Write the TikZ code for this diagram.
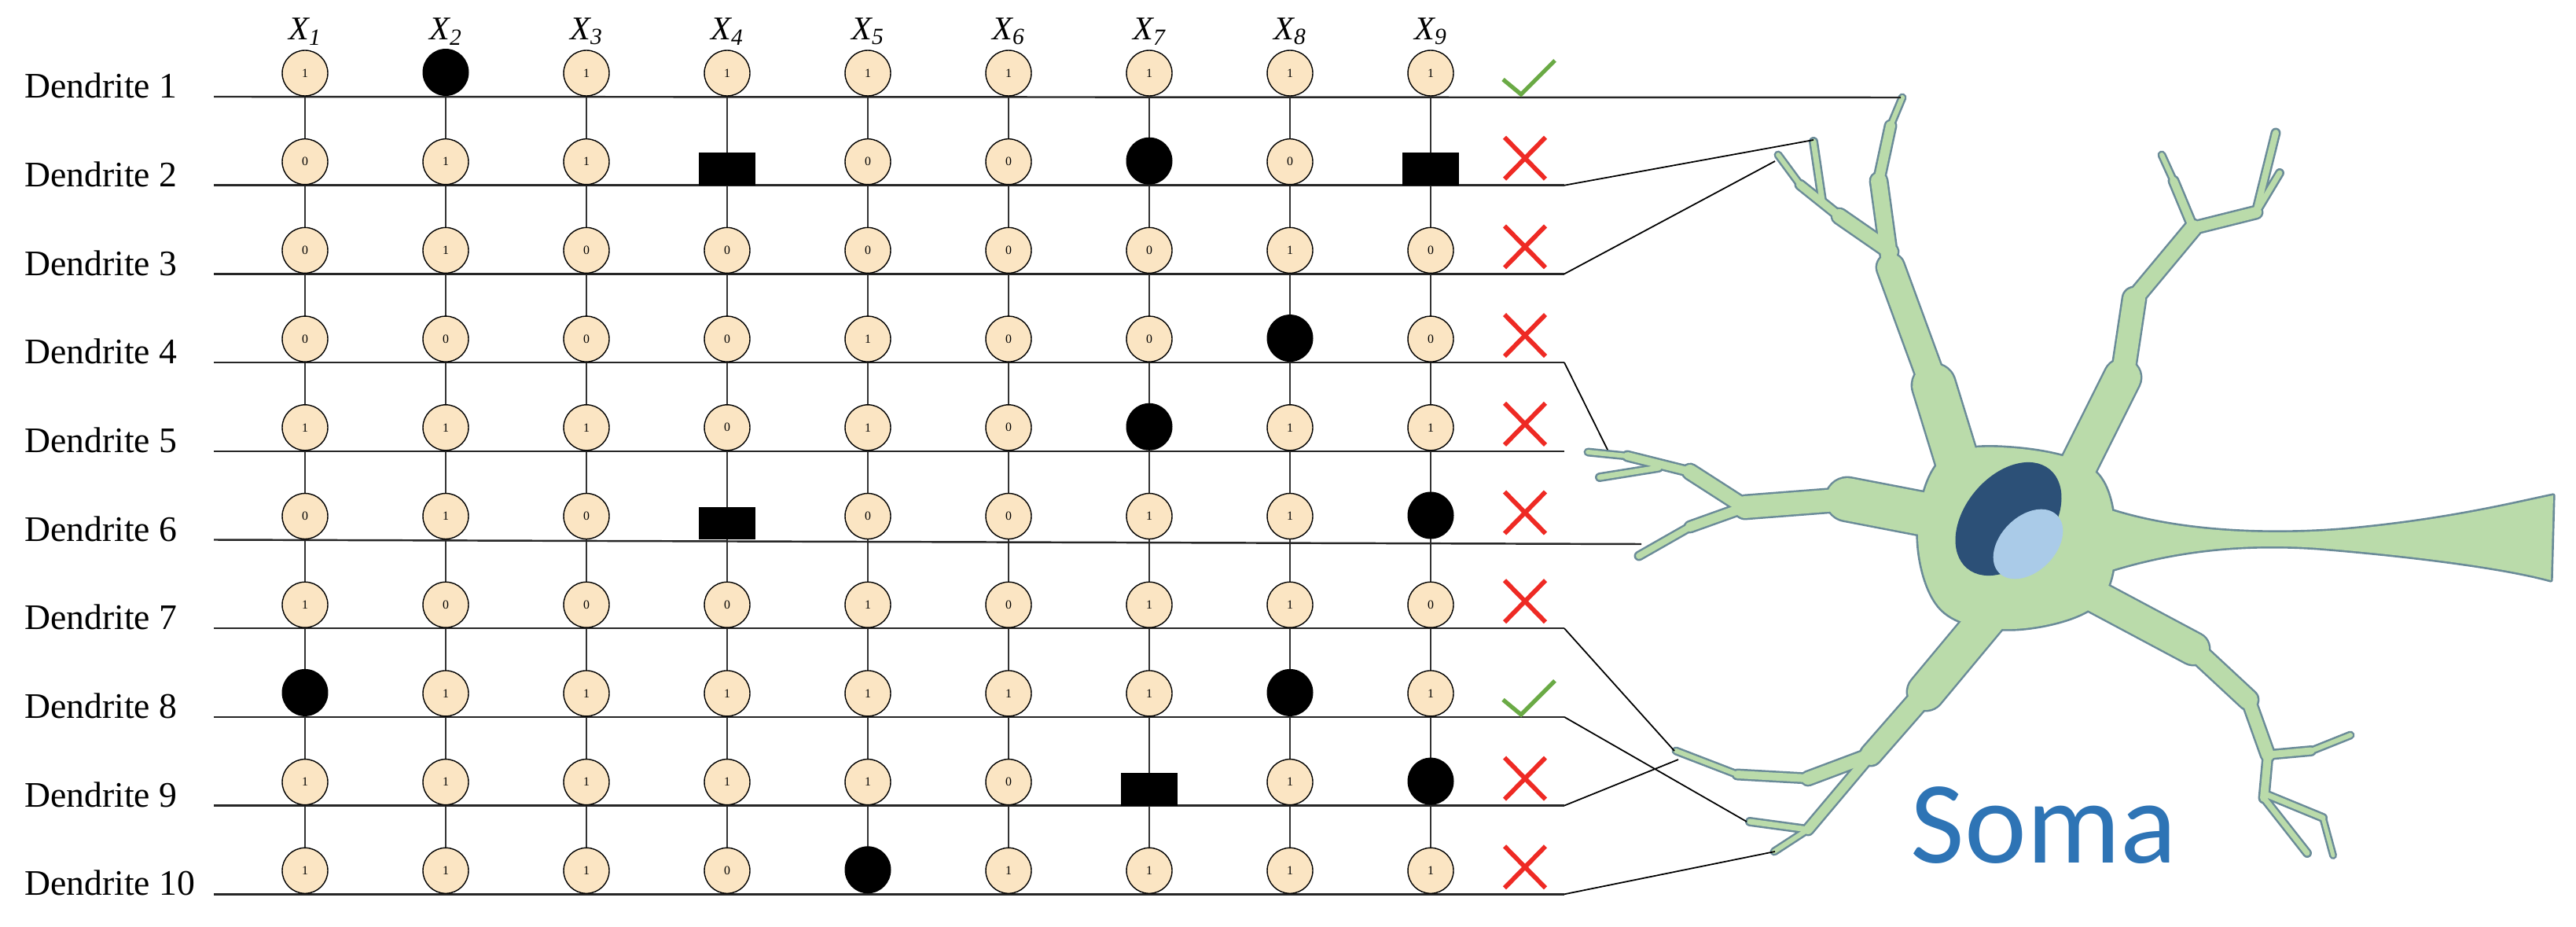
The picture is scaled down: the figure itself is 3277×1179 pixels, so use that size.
\documentclass[tikz,border=0pt]{standalone}
\usepackage{fontspec}
\setmainfont{Liberation Serif}
\newfontfamily\somaf{Carlito}
\usetikzlibrary{shapes.geometric}
\definecolor{cellc}{HTML}{FBE5C3}
\definecolor{neur}{HTML}{BADBAA}
\definecolor{neurb}{HTML}{6A8B98}
\definecolor{nucd}{HTML}{2C5077}
\definecolor{nucl}{HTML}{AACBE8}
\definecolor{okc}{HTML}{6AAA45}
\definecolor{noc}{HTML}{EE2A24}
\definecolor{somac}{HTML}{2E74B5}
\begin{document}
\begin{tikzpicture}[x=0.02cm,y=-0.02cm,
  cell/.style={circle,draw,fill=cellc,minimum size=1.16cm,inner sep=0pt,line width=0.8pt,font=\fontsize{9}{9}\selectfont},
  blk/.style={ellipse,fill=black,minimum width=1.18cm,minimum height=1.2cm,inner sep=0pt},
  sq/.style={rectangle,fill=black,minimum width=1.44cm,minimum height=0.84cm,inner sep=0pt},
  dl/.style={line width=1.4pt,black!85},
  vl/.style={line width=1.1pt,black!80},
  cn/.style={line width=1pt,black},
  lab/.style={anchor=west,font=\fontsize{26}{26}\selectfont,inner sep=0pt},
  xl/.style={font=\fontsize{24}{24}\selectfont\itshape,inner sep=0pt},
  ok/.style={okc,line width=3pt},
  no/.style={noc,line width=3.3pt},
  br/.style={line cap=round,line join=round}]
\useasboundingbox (0,0) rectangle (3277,1179);

% ---------- neuron ----------
\def\somapath{plot[smooth cycle,tension=0.6] coordinates {(2470,585) (2560,570) (2665,600) (2690,690) (2665,770) (2560,800) (2470,775) (2440,680)}}
\def\axonpath{(2660,640) .. controls (2760,680) and (2900,682) .. (3000,672) .. controls (3120,660) and (3200,640) .. (3248,630) -- (3245,738) .. controls (3180,720) and (3050,705) .. (2950,697) .. controls (2850,690) and (2760,700) .. (2670,730) -- cycle}
\def\neuronbranches#1#2{%
 \foreach \w/\a/\b in {
   54/{2500,620}/{2460,490}, 34/{2460,490}/{2405,340}, 20/{2405,340}/{2390,230}, 12/{2390,230}/{2405,160}, 6/{2405,160}/{2420,124},
   18/{2405,320}/{2340,275}, 10/{2340,275}/{2290,235}, 6/{2290,235}/{2262,197}, 7/{2318,255}/{2307,180},
   46/{2630,620}/{2700,480}, 28/{2700,480}/{2715,380}, 20/{2715,380}/{2790,290},
   10/{2790,290}/{2765,230}, 6/{2765,230}/{2750,197}, 14/{2790,290}/{2870,270}, 8/{2870,270}/{2895,169}, 7/{2870,270}/{2900,220},
   54/{2480,660}/{2350,635}, 28/{2350,635}/{2220,645}, 18/{2220,645}/{2150,600}, 10/{2150,600}/{2070,580}, 6/{2070,580}/{2020,575},
   7/{2110,595}/{2035,607}, 12/{2220,645}/{2150,670}, 8/{2150,670}/{2085,707},
   40/{2640,745}/{2790,825}, 24/{2790,825}/{2860,890}, 16/{2860,890}/{2885,960}, 10/{2885,960}/{2880,1015}, 7/{2880,1015}/{2935,1085},
   9/{2885,960}/{2940,955}, 6/{2940,955}/{2990,935}, 7/{2882,1010}/{2955,1040}, 5/{2955,1040}/{2968,1088},
   46/{2550,760}/{2450,880}, 26/{2450,880}/{2380,960}, 16/{2380,960}/{2300,990}, 10/{2300,990}/{2210,985},
   6/{2210,985}/{2132,955}, 12/{2380,960}/{2300,1055}, 7/{2300,1055}/{2226,1045}, 6/{2300,1055}/{2257,1083}}
   {\pgfmathsetmacro\ww{(\w+#1)*0.567}\draw[br,#2,line width=\ww pt] (\a) -- (\b);}}
\neuronbranches{5}{neurb}
\draw[neurb,line width=3pt,line join=round] \axonpath;
\draw[neurb,line width=3pt] \somapath;
\neuronbranches{0}{neur}
\fill[neur] \axonpath;
\fill[neur] \somapath;
\fill[nucd, rotate around={50:(2555,660)}] (2555,660) ellipse (82 and 55);
\fill[nucl, rotate around={45:(2580,692)}] (2580,692) ellipse (52 and 35);
\node[font=\somaf\fontsize{85}{85}\selectfont,text=somac,inner sep=0pt] (soma) at (2600,1050) {Soma};

% ---------- tips ----------
\coordinate (T1) at (2418,124);
\coordinate (T2) at (2307,178);
\coordinate (T3) at (2258,205);
\coordinate (T4) at (2045,572);
\coordinate (T6) at (2088,692);
\coordinate (T7) at (2130,955);
\coordinate (T8) at (2222,1045);
\coordinate (T9) at (2135,966);
\coordinate (T10) at (2258,1083);

% ---------- grid ----------
\foreach \c in {1,...,9}{
  \pgfmathsetmacro\xx{388+(\c-1)*179}
  \coordinate (top\c) at (\xx,123);
  \coordinate (bot\c) at (\xx,1137);
  \draw[vl] (top\c) -- (bot\c);
  \node[xl] (x\c) at (\xx,40) {X\textsubscript{\c}};
}
\foreach \r in {1,...,10}{
  \pgfmathsetmacro\yy{123+(\r-1)*112.7}
  \coordinate (L\r) at (272,\yy);
  \coordinate (E\r) at (1990,\yy);
  \node[lab] (d\r) at (31,\yy-14) {Dendrite \r};
}
\draw[dl] (L1) -- (T1);
\draw[dl] (L2) -- (E2); \draw[cn] (E2) -- (T2);
\draw[dl] (L3) -- (E3); \draw[cn] (E3) -- (T3);
\draw[dl] (L4) -- (E4); \draw[cn] (E4) -- (T4);
\draw[dl] (L5) -- (E5);
\draw[dl] (L6) -- (T6);
\draw[dl] (L7) -- (E7); \draw[cn] (E7) -- (T7);
\draw[dl] (L8) -- (E8); \draw[cn] (E8) -- (T8);
\draw[dl] (L9) -- (E9); \draw[cn] (E9) -- (T9);
\draw[dl] (L10) -- (E10); \draw[cn] (E10) -- (T10);

\foreach \r/\vals/\mk in {
  1/{1,2,1,1,1,1,1,1,1}/1,
  2/{0,1,1,3,0,0,2,0,3}/0,
  3/{0,1,0,0,0,0,0,1,0}/0,
  4/{0,0,0,0,1,0,0,2,0}/0,
  5/{1,1,1,0,1,0,2,1,1}/0,
  6/{0,1,0,3,0,0,1,1,2}/0,
  7/{1,0,0,0,1,0,1,1,0}/0,
  8/{2,1,1,1,1,1,1,2,1}/1,
  9/{1,1,1,1,1,0,3,1,2}/0,
  10/{1,1,1,0,2,1,1,1,1}/0}{
  \pgfmathsetmacro\yy{123+(\r-1)*112.7}
  \foreach \v [count=\c] in \vals {
    \pgfmathsetmacro\xx{388+(\c-1)*179}
    \ifcase\v
      \node[cell] (n\r-\c) at (\xx,\yy-30) {0};
    \or
      \node[cell] (n\r-\c) at (\xx,\yy-30) {1};
    \or
      \node[blk] (n\r-\c) at (\xx,\yy-31) {};
    \or
      \node[sq] (n\r-\c) at (\xx,\yy-21) {};
    \fi
  }
  \ifnum\mk=1
    \draw[ok] (1912,\yy-22) -- (1935,\yy-3) -- (1978,\yy-46);
  \else
    \draw[no] (1914,\yy-61) -- (1966,\yy-8);
    \draw[no] (1966,\yy-61) -- (1914,\yy-8);
  \fi
}
\end{tikzpicture}
\end{document}
